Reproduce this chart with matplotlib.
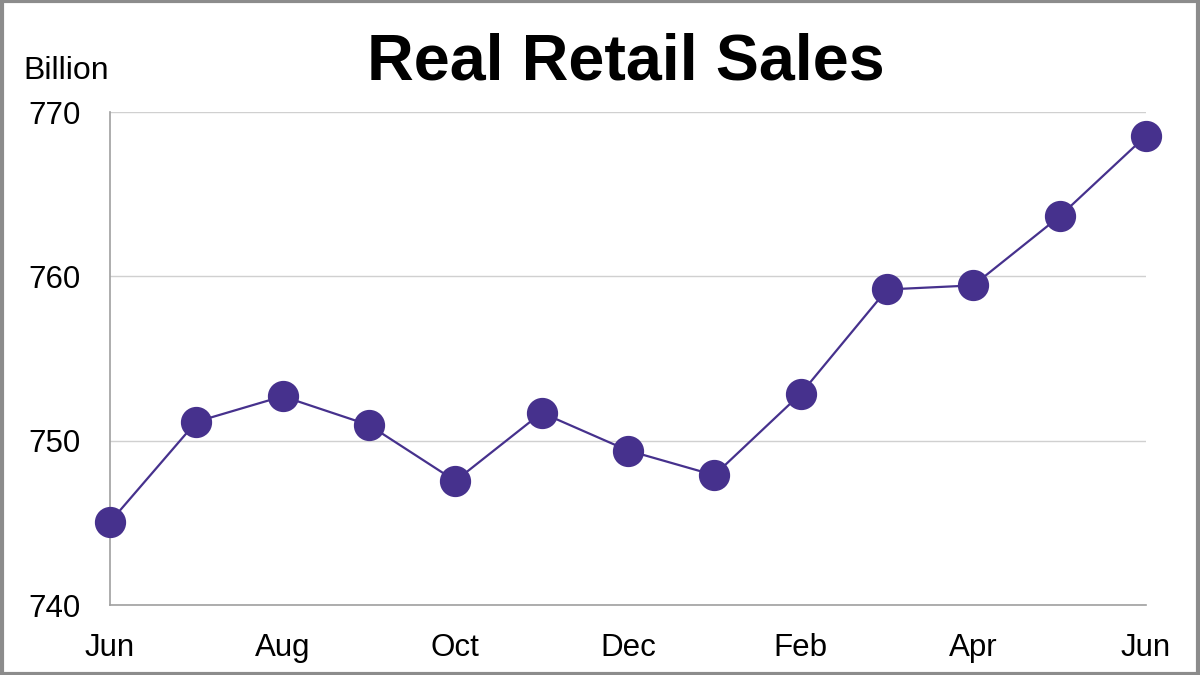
import matplotlib
matplotlib.use('Agg')
import matplotlib.pyplot as plt
from matplotlib.patches import Rectangle

plt.rcParams['font.family'] = ['Liberation Sans', 'DejaVu Sans']

# monthly real retail sales, billions
months = ['Jun', 'Jul', 'Aug', 'Sep', 'Oct', 'Nov', 'Dec', 'Jan', 'Feb', 'Mar', 'Apr', 'May', 'Jun']
sales = [745.05, 751.15, 752.7, 750.95, 747.55, 751.7, 749.4, 747.9, 752.85, 759.2, 759.45, 763.65, 768.55]
yticks = [740, 750, 760, 770]

PURPLE = '#46318d'

fig = plt.figure(figsize=(12, 6.75), dpi=100)
ax = fig.add_axes([110/1200, 1-605/675, (1146-110)/1200, (605-112)/675])

x = list(range(len(months)))
ax.plot(x, sales, color=PURPLE, lw=1.6, marker='o', ms=21.5, mfc=PURPLE, mec=PURPLE,
        zorder=3, clip_on=False)

ax.set_xlim(0, len(months)-1)
ax.set_ylim(740, 770)
ax.set_yticks(yticks)
ax.set_yticklabels([str(v) for v in yticks], fontsize=22.5)
ax.set_xticks(x[::2])
ax.set_xticklabels(months[::2], fontsize=22.5)
ax.tick_params(axis='y', length=0, pad=21)
ax.tick_params(axis='x', length=0, pad=20)
ax.grid(axis='y', color='#d0d0d0', lw=1)
ax.set_axisbelow(True)
for s in ['top', 'right']:
    ax.spines[s].set_visible(False)
for s in ['left', 'bottom']:
    ax.spines[s].set_color('#a0a0a0')
    ax.spines[s].set_linewidth(1.2)

fig.text(626/1200, 1-62/675, 'Real Retail Sales', fontsize=46.5, fontweight='bold', ha='center', va='center')
fig.text(23/1200, 1-71/675, 'Billion', fontsize=23, ha='left', va='center')

fig.patches.append(Rectangle((0.0015, 0.002), 0.997, 0.996, transform=fig.transFigure,
                             fill=False, ec='#8c8c8c', lw=3))

fig.savefig('out.png', dpi=100)
